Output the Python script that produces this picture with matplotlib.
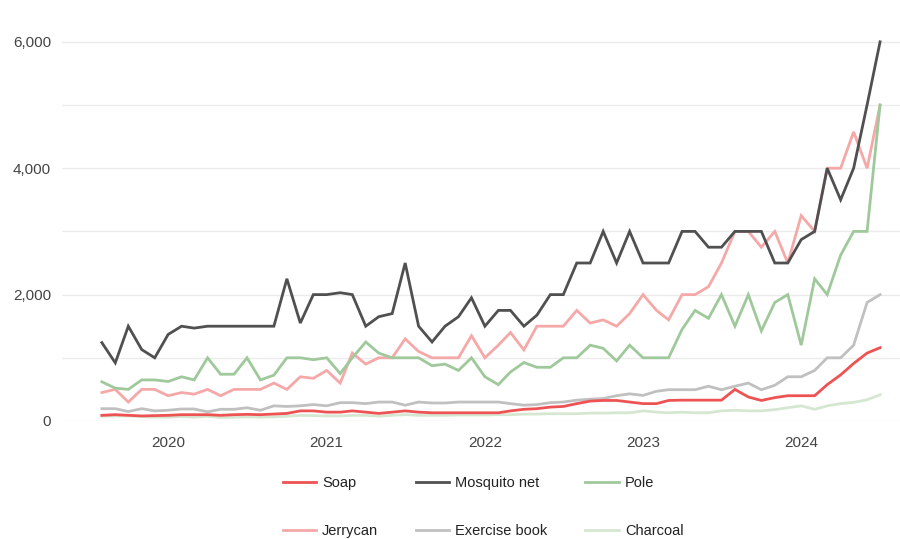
import pandas as pd
import matplotlib.pyplot as plt
import matplotlib.dates as mdates
from matplotlib.ticker import FixedLocator, FuncFormatter

plt.rcParams['font.family'] = ['Liberation Sans', 'DejaVu Sans']

# Meses: agosto 2019 a julio 2024
months = pd.date_range('2019-08-01', periods=60, freq='MS')

soap = [90, 100, 90, 80, 85, 90, 100, 100, 100, 90, 100, 105, 100, 110, 120, 160, 160, 140, 140, 160,
        140, 120, 140, 160, 140, 130, 130, 130, 130, 130, 130, 160, 185, 195, 220, 230, 275, 315, 325, 325,
        300, 275, 275, 325, 330, 330, 330, 330, 500, 380, 325, 370, 400, 400, 400, 575, 730, 910, 1075, 1160]
mosquito_net = [1240, 920, 1500, 1130, 1000, 1370, 1500, 1470, 1500, 1500, 1500, 1500, 1500, 1500, 2250, 1550, 2000, 2000, 2030, 2000,
                1500, 1650, 1700, 2500, 1500, 1250, 1500, 1650, 1950, 1500, 1750, 1750, 1500, 1675, 2000, 2000, 2500, 2500, 3000, 2500,
                3000, 2500, 2500, 2500, 3000, 3000, 2750, 2750, 3000, 3000, 3000, 2500, 2500, 2870, 3000, 4000, 3500, 4000, 5000, 6000]
pole = [620, 520, 500, 650, 650, 625, 700, 650, 1000, 740, 740, 1000, 650, 725, 1000, 1000, 970, 1000, 750, 1000,
        1250, 1075, 1000, 1000, 1000, 875, 900, 800, 1000, 700, 575, 775, 925, 850, 850, 1000, 1000, 1200, 1150, 950,
        1200, 1000, 1000, 1000, 1450, 1750, 1625, 2000, 1500, 2000, 1425, 1875, 2000, 1200, 2250, 2000, 2625, 3000, 3000, 5000]
jerrycan = [450, 500, 300, 500, 500, 400, 450, 425, 500, 400, 500, 500, 500, 600, 500, 700, 675, 800, 600, 1075,
            900, 1000, 1000, 1300, 1100, 1000, 1000, 1000, 1350, 1000, 1200, 1400, 1125, 1500, 1500, 1500, 1750, 1550, 1600, 1500,
            1700, 2000, 1750, 1600, 2000, 2000, 2125, 2500, 3000, 3000, 2750, 3000, 2500, 3250, 3000, 4000, 4000, 4575, 4000, 5000]
exercise_book = [195, 195, 150, 195, 160, 170, 190, 190, 145, 185, 185, 210, 170, 240, 230, 240, 260, 240, 290, 290,
                 275, 300, 300, 250, 300, 285, 285, 300, 300, 300, 300, 275, 250, 260, 290, 300, 330, 345, 355, 400,
                 430, 405, 470, 495, 495, 495, 550, 495, 550, 600, 495, 565, 700, 700, 800, 1000, 1000, 1200, 1875, 2000]
charcoal = [75, 80, 80, 70, 60, 60, 70, 60, 75, 55, 60, 65, 60, 65, 75, 90, 85, 80, 80, 90,
            90, 75, 90, 100, 90, 90, 90, 95, 95, 95, 100, 100, 110, 110, 115, 115, 115, 125, 125, 130,
            130, 160, 140, 130, 140, 130, 130, 160, 170, 160, 160, 180, 210, 240, 185, 240, 275, 295, 335, 415]

series = [
    ("Soap", soap, '#ee5353'),
    ("Mosquito net", mosquito_net, '#505050'),
    ("Pole", pole, '#9fc99b'),
    ("Jerrycan", jerrycan, '#f4a9a8'),
    ("Exercise book", exercise_book, '#c0c0c0'),
    ("Charcoal", charcoal, '#d5e7d1'),
]

fig = plt.figure(figsize=(9, 5.39), dpi=100)
ax = fig.add_axes([62 / 900, 1 - 421 / 539, 838 / 900, 391 / 539])

# las primeras series quedan encima
lines = []
for k, (name, values, color) in enumerate(series):
    ln, = ax.plot(months, values, label=name, color=color, linewidth=2,
                  solid_joinstyle='miter', zorder=10 - k)
    lines.append(ln)

# Ejes
ax.set_xlim(months[0] - pd.Timedelta(days=92), months[-1] + pd.Timedelta(days=46))
ax.set_ylim(0, 6187)
ax.xaxis.set_major_locator(mdates.YearLocator())
ax.xaxis.set_major_formatter(mdates.DateFormatter('%Y'))
ax.yaxis.set_major_locator(FixedLocator([0, 2000, 4000, 6000]))
ax.yaxis.set_minor_locator(FixedLocator([1000, 3000, 5000]))
ax.yaxis.set_major_formatter(FuncFormatter(lambda v, p: f"{int(v):,}"))
ax.tick_params(axis='both', which='both', length=0, labelsize=11, labelcolor='#444444')
ax.tick_params(axis='y', pad=8)
ax.tick_params(axis='x', pad=11)
ax.grid(True, axis='y', which='both', color='#ebebeb', linewidth=1)
ax.set_axisbelow(True)
for s in ax.spines.values():
    s.set_visible(False)

# Leyenda en orden por filas (matplotlib llena por columnas)
order = [0, 3, 1, 4, 2, 5]
fig.legend([lines[i] for i in order], [series[i][0] for i in order],
           loc='center', bbox_to_anchor=(483 / 900, 1 - 507 / 539), ncol=3, frameon=False,
           fontsize=10.5, handlelength=2.3, handletextpad=0.4, columnspacing=2.6,
           labelspacing=2.3, labelcolor='#222222')

plt.savefig('out.png', dpi=100)
